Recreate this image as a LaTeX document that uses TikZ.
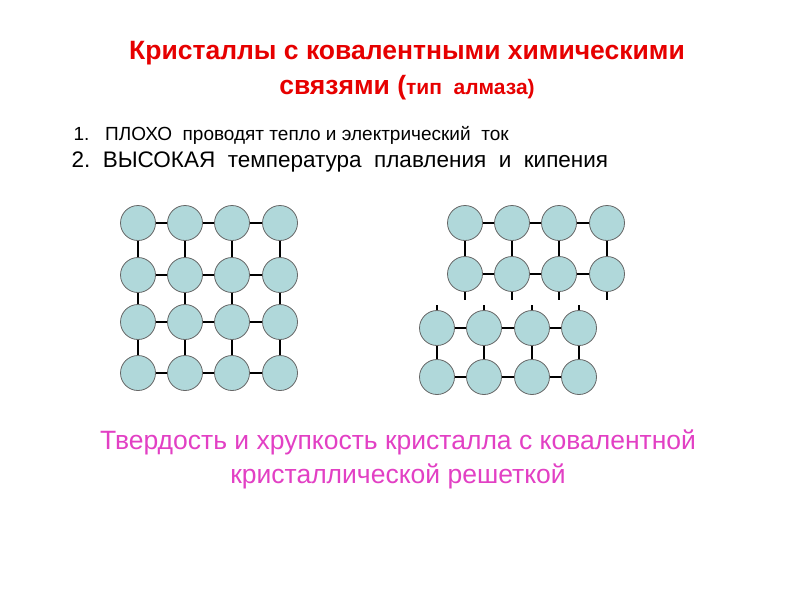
\documentclass[tikz,border=0pt]{standalone}
\usepackage{fontspec}
\setmainfont{Liberation Sans}
\definecolor{atom}{RGB}{176,216,218}
\definecolor{ttl}{RGB}{230,0,0}
\definecolor{pink}{RGB}{226,64,196}
\begin{document}
\begin{tikzpicture}[x=1pt,y=-1pt,
  atomnode/.style={circle,draw=black!60,fill=atom,line width=0.8pt,minimum size=35pt,inner sep=0pt},
  bond/.style={line width=2.6pt,black}]
\useasboundingbox (0,0) rectangle (800,600);
\node[text=ttl,font=\bfseries\fontsize{26.5}{30}\selectfont] (t1) at (407,53) {Кристаллы с ковалентными химическими};
\node[text=ttl,font=\bfseries\fontsize{26.5}{30}\selectfont] (t2) at (407,88) {связями (\fontsize{21}{24}\selectfont тип\ \ алмаза)};
\node[anchor=west,font=\fontsize{19}{22}\selectfont] (l1) at (70,135) {1.\ \ \ ПЛОХО\ \ проводят тепло и электрический\ \ ток};
\node[anchor=west,font=\fontsize{22.5}{26}\selectfont] (l2) at (68,162) {2.\ \ ВЫСОКАЯ\ \ температура\ \ плавления\ \ и\ \ кипения};
% left lattice
\foreach \x [count=\i] in {138,185,232,280}
  \foreach \y [count=\j] in {223,275,322,373}
    \coordinate (L\i\j) at (\x,\y);
\foreach \i in {1,...,4}{
  \draw[bond] (L\i1) -- (L\i4);}
\foreach \j in {1,...,4}{
  \draw[bond] (L1\j) -- (L4\j);}
\foreach \i in {1,...,4}
  \foreach \j in {1,...,4}
    \node[atomnode] (A\i\j) at (L\i\j) {};
% right top
\foreach \x [count=\i] in {465,512,559,607}
  \foreach \y [count=\j] in {223,274}
    \coordinate (T\i\j) at (\x,\y);
\foreach \i in {1,...,4}{
  \draw[bond] (T\i1) -- (T\i2);
  \draw[bond] ([yshift=-17pt]T\i2) -- ([yshift=-26pt]T\i2);}
\foreach \j in {1,2}{
  \draw[bond] (T1\j) -- (T4\j);}
\foreach \i in {1,...,4}
  \foreach \j in {1,2}
    \node[atomnode] (B\i\j) at (T\i\j) {};
% right bottom
\foreach \x [count=\i] in {437,484,532,579}
  \foreach \y [count=\j] in {328,377}
    \coordinate (D\i\j) at (\x,\y);
\foreach \i in {1,...,4}{
  \draw[bond] (D\i1) -- (D\i2);
  \draw[bond] ([yshift=17pt]D\i1) -- ([yshift=23pt]D\i1);}
\foreach \j in {1,2}{
  \draw[bond] (D1\j) -- (D4\j);}
\foreach \i in {1,...,4}
  \foreach \j in {1,2}
    \node[atomnode] (C\i\j) at (D\i\j) {};
\node[text=pink,font=\fontsize{26.5}{30}\selectfont] (p1) at (398,442) {Твердость и хрупкость кристалла с ковалентной};
\node[text=pink,font=\fontsize{26.5}{30}\selectfont] (p2) at (398,476) {кристаллической решеткой};
\end{tikzpicture}
\end{document}
